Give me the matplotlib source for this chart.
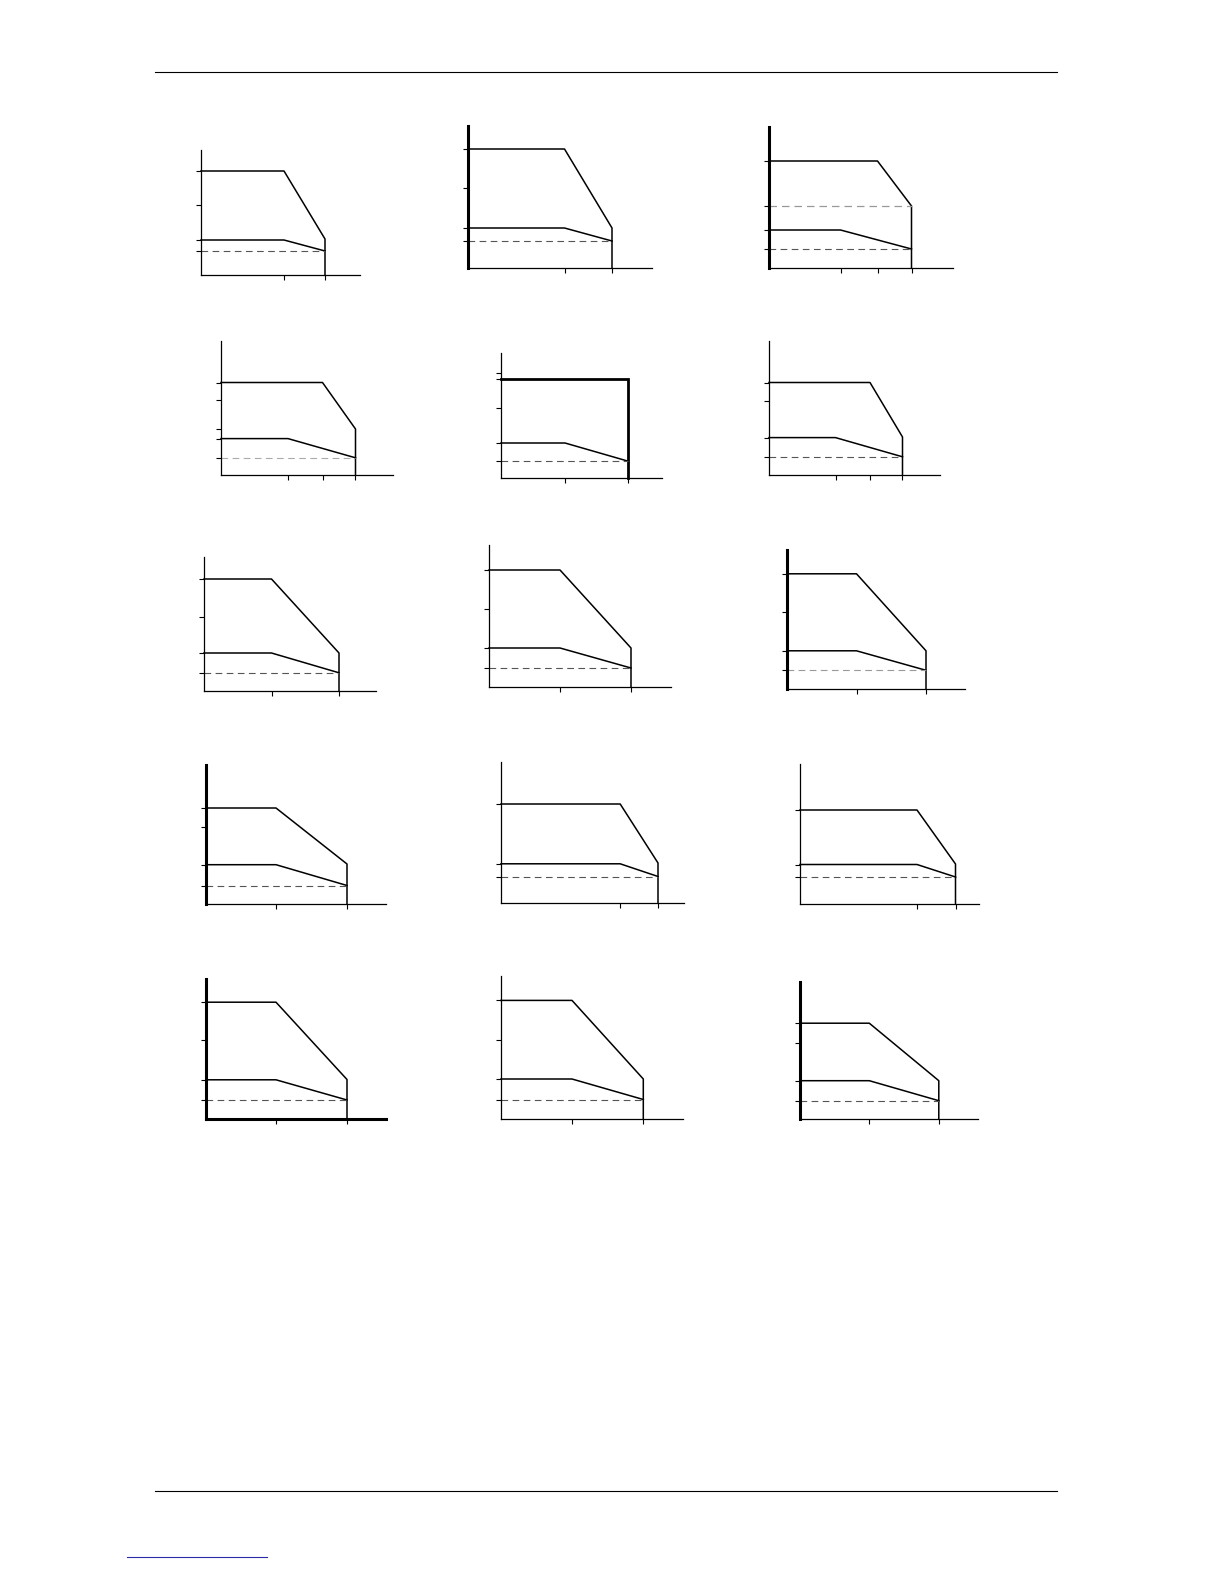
import matplotlib
matplotlib.use("Agg")
import matplotlib.pyplot as plt
from matplotlib.lines import Line2D

W, H = 1224, 1584

# Panel placement on the page: axis origin (px) and axis extents (px)
origin_x = [201, 468, 769, 221, 501, 769, 204, 489, 787, 206, 501, 800, 206, 501, 800]
origin_y = [275, 268, 268, 475, 478, 475, 691, 687, 689, 904, 903, 904, 1119, 1119, 1119]
x_extent = [159, 184, 183.5, 172, 161, 171, 172, 182, 178, 180, 182.5, 179, 180, 182, 178]
y_extent = [125, 142, 141, 134, 125, 134, 134.4, 142, 139, 139.3, 141, 140, 139.7, 142.8, 137]

# Data (same arbitrary units in every panel)
upper_level = [104, 119, 107, 92.5, 98.5, 92.5, 112, 117, 115.2, 96, 99, 94, 116.8, 118.6, 95.8]
upper_break = [83, 96.5, 108.5, 101.5, 126.5, 101, 67.5, 71, 69.5, 70, 119.2, 117, 70, 71, 69.3]
upper_end_level = [36, 40, 62, 46, 98.5, 38, 38, 39, 38.2, 40, 40, 40, 39.5, 40, 38.3]
lower_level = [35, 40, 38, 36.4, 35, 37.4, 38, 39, 38.2, 39.3, 39.2, 39.5, 39.2, 40, 38.3]
lower_break = [83, 96.5, 71.5, 67, 64, 66.5, 67.5, 71, 69.5, 70, 119.2, 117, 70, 71, 69.3]
end_x = [124, 144, 142.5, 134.5, 126.5, 133.5, 135, 142, 139, 141, 157, 155.5, 141, 142.3, 138.8]
dash_level = [24, 27, 19, 17.2, 17, 18.2, 18.2, 19, 18.7, 18.5, 26.5, 27, 19, 19.5, 18.3]
upper_dash = [None, None, 62, None, None, None, None, None, None, None, None, None, None, None, None]
y_ticks = [
    [104, 70, 35, 24],
    [119, 80, 40, 27],
    [107, 62, 38, 19],
    [92.5, 75, 46, 36.4, 17.2],
    [105, 98.5, 70, 35, 17],
    [92.5, 74.4, 37.4, 18.2],
    [112, 74.5, 38, 18.2],
    [117, 78.5, 39, 19],
    [115.2, 76.7, 38.2, 18.7],
    [96, 76.8, 39.3, 18.5],
    [99, 39.2, 26.5],
    [94, 39.5, 27],
    [116.8, 78.7, 39.2, 19],
    [118.6, 79, 40, 19.5],
    [95.8, 76.3, 38.3, 18.3],
]
x_ticks = [
    [83, 124],
    [96.5, 144],
    [71.5, 108.5, 142.5],
    [67, 101.5, 134.5],
    [64, 126.5],
    [66.5, 101, 133.5],
    [67.5, 135],
    [71, 142],
    [69.5, 139],
    [70, 141],
    [119.2, 157],
    [117, 155.5],
    [70, 141],
    [71, 142.3],
    [69.3, 138.8],
]

# styles
thick_y = [False, True, True, False, False, False, False, False, True, True, False, False, True, False, True]
thick_x = [False, False, False, False, False, False, False, False, False, False, False, False, True, False, False]
dash_colors = ['#555555', '#555555', '#555555', '#aaaaaa', '#555555', '#555555', '#555555', '#555555',
               '#999999', '#555555', '#555555', '#555555', '#555555', '#555555', '#555555']

fig = plt.figure(figsize=(W / 100, H / 100), dpi=100)
fig.patch.set_facecolor('white')

for i in range(15):
    x0, y0 = origin_x[i], origin_y[i]
    w, h = x_extent[i], y_extent[i]
    ax = fig.add_axes([x0 / W, 1 - y0 / H, w / W, h / H])
    ax.set_xlim(0, w)
    ax.set_ylim(0, h)
    ax.patch.set_alpha(0)
    for s in ['top', 'right']:
        ax.spines[s].set_visible(False)
    ax.spines['left'].set_linewidth(2.2 if thick_y[i] else 0.9)
    ax.spines['bottom'].set_linewidth(2.2 if thick_x[i] else 0.9)
    ax.set_xticks(x_ticks[i])
    ax.set_yticks(y_ticks[i])
    ax.tick_params(direction='out', length=3.5, width=0.8, labelleft=False, labelbottom=False)

    ex = end_x[i]
    is_box = i == 4
    # upper curve
    if is_box:
        ax.plot([0, ex, ex], [upper_level[i], upper_level[i], 0], color='black', lw=2.0,
                clip_on=False, solid_joinstyle='miter')
    else:
        ax.plot([0, upper_break[i], ex, ex], [upper_level[i], upper_level[i], upper_end_level[i], 0],
                color='black', lw=1.1, clip_on=False)
    # lower curve
    ax.plot([0, lower_break[i], ex], [lower_level[i], lower_level[i], dash_level[i]],
            color='black', lw=1.1, clip_on=False)
    # dashed reference lines
    ax.plot([0, ex], [dash_level[i], dash_level[i]], color=dash_colors[i], lw=0.8,
            linestyle=(0, (6, 4)), clip_on=False)
    if upper_dash[i] is not None:
        ax.plot([0, ex], [upper_dash[i], upper_dash[i]], color='#999999', lw=0.9,
                linestyle=(0, (6, 4)), clip_on=False)

# page rules (header/footer) and link underline
fig.add_artist(Line2D([155 / W, 1057 / W], [1 - 72 / H, 1 - 72 / H], color='black', lw=0.8))
fig.add_artist(Line2D([155 / W, 1057 / W], [1 - 1491 / H, 1 - 1491 / H], color='black', lw=0.8))
fig.add_artist(Line2D([127 / W, 267 / W], [1 - 1557 / H, 1 - 1557 / H], color='#2a2aa8', lw=0.8))

fig.savefig('out.png', dpi=100, facecolor='white')
